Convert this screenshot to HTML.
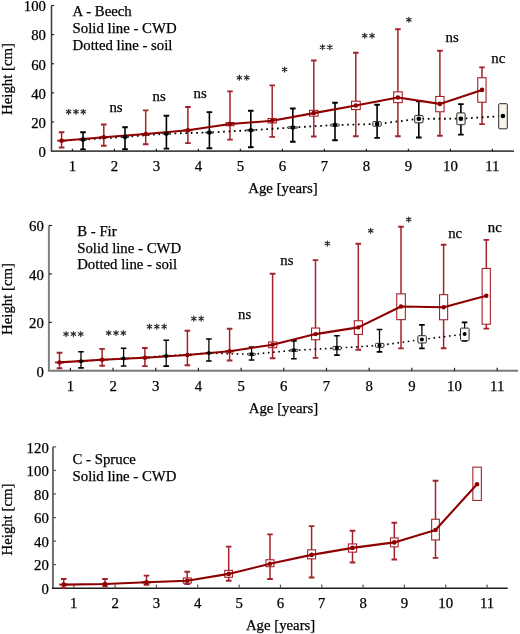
<!DOCTYPE html>
<html><head><meta charset="utf-8"><style>
html,body{margin:0;padding:0;background:#fff;}
svg{display:block;will-change:transform;}
text{font-family:"Liberation Serif", serif;fill:#000;stroke:#000;stroke-width:0.25px;}
</style></head><body>
<svg width="520" height="634" viewBox="0 0 520 634">
<rect width="520" height="634" fill="#fff"/>
<line x1="51.5" y1="5.5" x2="51.5" y2="151.1" stroke="#3a3a3a" stroke-width="1.5"/>
<line x1="50.75" y1="151.1" x2="514" y2="151.1" stroke="#454545" stroke-width="1.8"/>
<text x="46.0" y="156.90" text-anchor="end" font-size="14.8" >0</text>
<line x1="51.5" y1="121.98" x2="54.1" y2="121.98" stroke="#222" stroke-width="1.2"/>
<text x="46.0" y="127.78" text-anchor="end" font-size="14.8" >20</text>
<line x1="51.5" y1="92.86" x2="54.1" y2="92.86" stroke="#222" stroke-width="1.2"/>
<text x="46.0" y="98.66" text-anchor="end" font-size="14.8" >40</text>
<line x1="51.5" y1="63.74" x2="54.1" y2="63.74" stroke="#222" stroke-width="1.2"/>
<text x="46.0" y="69.54" text-anchor="end" font-size="14.8" >60</text>
<line x1="51.5" y1="34.62" x2="54.1" y2="34.62" stroke="#222" stroke-width="1.2"/>
<text x="46.0" y="40.42" text-anchor="end" font-size="14.8" >80</text>
<line x1="51.5" y1="5.50" x2="54.1" y2="5.50" stroke="#222" stroke-width="1.2"/>
<text x="46.0" y="11.30" text-anchor="end" font-size="14.8" >100</text>
<line x1="72.40" y1="151.1" x2="72.40" y2="148.7" stroke="#222" stroke-width="1.2"/>
<text x="72.40" y="170.8" text-anchor="middle" font-size="14.8" >1</text>
<line x1="114.40" y1="151.1" x2="114.40" y2="148.7" stroke="#222" stroke-width="1.2"/>
<text x="114.40" y="170.8" text-anchor="middle" font-size="14.8" >2</text>
<line x1="156.40" y1="151.1" x2="156.40" y2="148.7" stroke="#222" stroke-width="1.2"/>
<text x="156.40" y="170.8" text-anchor="middle" font-size="14.8" >3</text>
<line x1="198.40" y1="151.1" x2="198.40" y2="148.7" stroke="#222" stroke-width="1.2"/>
<text x="198.40" y="170.8" text-anchor="middle" font-size="14.8" >4</text>
<line x1="240.40" y1="151.1" x2="240.40" y2="148.7" stroke="#222" stroke-width="1.2"/>
<text x="240.40" y="170.8" text-anchor="middle" font-size="14.8" >5</text>
<line x1="282.40" y1="151.1" x2="282.40" y2="148.7" stroke="#222" stroke-width="1.2"/>
<text x="282.40" y="170.8" text-anchor="middle" font-size="14.8" >6</text>
<line x1="324.40" y1="151.1" x2="324.40" y2="148.7" stroke="#222" stroke-width="1.2"/>
<text x="324.40" y="170.8" text-anchor="middle" font-size="14.8" >7</text>
<line x1="366.40" y1="151.1" x2="366.40" y2="148.7" stroke="#222" stroke-width="1.2"/>
<text x="366.40" y="170.8" text-anchor="middle" font-size="14.8" >8</text>
<line x1="408.40" y1="151.1" x2="408.40" y2="148.7" stroke="#222" stroke-width="1.2"/>
<text x="408.40" y="170.8" text-anchor="middle" font-size="14.8" >9</text>
<line x1="450.40" y1="151.1" x2="450.40" y2="148.7" stroke="#222" stroke-width="1.2"/>
<text x="450.40" y="170.8" text-anchor="middle" font-size="14.8" >10</text>
<line x1="492.40" y1="151.1" x2="492.40" y2="148.7" stroke="#222" stroke-width="1.2"/>
<text x="492.40" y="170.8" text-anchor="middle" font-size="14.8" >11</text>
<text x="283" y="192.8" text-anchor="middle" font-size="14.8" >Age [years]</text>
<text transform="translate(11.7 79) rotate(-90)" text-anchor="middle" font-size="14.8">Height [cm]</text>
<text x="72.6" y="15.9" text-anchor="start" font-size="14.8" >A - Beech</text>
<text x="72.6" y="32.6" text-anchor="start" font-size="14.8" >Solid line - CWD</text>
<text x="72.6" y="49.5" text-anchor="start" font-size="14.8" >Dotted line - soil</text>
<g>
<path d="M61.6 132 V147.7" stroke="#a3222b" stroke-width="1.5" fill="none"/><path d="M58.800000000000004 132.2 H64.4 M58.800000000000004 147.5 H64.4" stroke="#a3222b" stroke-width="1.9" fill="none"/>
<path d="M103.8 124.3 V146" stroke="#a3222b" stroke-width="1.5" fill="none"/><path d="M101.0 124.5 H106.6 M101.0 145.8 H106.6" stroke="#a3222b" stroke-width="1.9" fill="none"/>
<path d="M145.7 110.2 V144.4" stroke="#a3222b" stroke-width="1.5" fill="none"/><path d="M142.89999999999998 110.4 H148.5 M142.89999999999998 144.20000000000002 H148.5" stroke="#a3222b" stroke-width="1.9" fill="none"/>
<path d="M187.9 106.8 V143.3" stroke="#a3222b" stroke-width="1.5" fill="none"/><path d="M185.1 107.0 H190.70000000000002 M185.1 143.10000000000002 H190.70000000000002" stroke="#a3222b" stroke-width="1.9" fill="none"/>
<path d="M230 91.2 V139.8" stroke="#a3222b" stroke-width="1.5" fill="none"/><path d="M227.2 91.4 H232.8 M227.2 139.60000000000002 H232.8" stroke="#a3222b" stroke-width="1.9" fill="none"/>
<path d="M272.2 85.2 V137.1" stroke="#a3222b" stroke-width="1.5" fill="none"/><path d="M269.4 85.4 H275.0 M269.4 136.9 H275.0" stroke="#a3222b" stroke-width="1.9" fill="none"/>
<path d="M313.8 60.3 V136.7" stroke="#a3222b" stroke-width="1.5" fill="none"/><path d="M311.0 60.5 H316.6 M311.0 136.5 H316.6" stroke="#a3222b" stroke-width="1.9" fill="none"/>
<path d="M355.8 52.5 V136.5" stroke="#a3222b" stroke-width="1.5" fill="none"/><path d="M353.0 52.7 H358.6 M353.0 136.3 H358.6" stroke="#a3222b" stroke-width="1.9" fill="none"/>
<path d="M397.9 29.1 V136.5" stroke="#a3222b" stroke-width="1.5" fill="none"/><path d="M395.09999999999997 29.3 H400.7 M395.09999999999997 136.3 H400.7" stroke="#a3222b" stroke-width="1.9" fill="none"/>
<path d="M439.9 50.6 V135.9" stroke="#a3222b" stroke-width="1.5" fill="none"/><path d="M437.09999999999997 50.800000000000004 H442.7 M437.09999999999997 135.70000000000002 H442.7" stroke="#a3222b" stroke-width="1.9" fill="none"/>
<path d="M482 67.2 V124.3" stroke="#a3222b" stroke-width="1.5" fill="none"/><path d="M479.2 67.4 H484.8 M479.2 124.1 H484.8" stroke="#a3222b" stroke-width="1.9" fill="none"/>
<path d="M83.0 132 V149.6" stroke="#000" stroke-width="1.6" fill="none"/><path d="M80.2 132.2 H85.8 M80.2 149.4 H85.8" stroke="#000" stroke-width="1.9000000000000001" fill="none"/>
<path d="M125.0 127 V149.5" stroke="#000" stroke-width="1.6" fill="none"/><path d="M122.2 127.2 H127.8 M122.2 149.3 H127.8" stroke="#000" stroke-width="1.9000000000000001" fill="none"/>
<path d="M166.4 115.5 V148.8" stroke="#000" stroke-width="1.6" fill="none"/><path d="M163.6 115.7 H169.20000000000002 M163.6 148.60000000000002 H169.20000000000002" stroke="#000" stroke-width="1.9000000000000001" fill="none"/>
<path d="M209.4 111.9 V148.5" stroke="#000" stroke-width="1.6" fill="none"/><path d="M206.6 112.10000000000001 H212.20000000000002 M206.6 148.3 H212.20000000000002" stroke="#000" stroke-width="1.9000000000000001" fill="none"/>
<path d="M250.8 110.6 V147.5" stroke="#000" stroke-width="1.6" fill="none"/><path d="M248.0 110.8 H253.60000000000002 M248.0 147.3 H253.60000000000002" stroke="#000" stroke-width="1.9000000000000001" fill="none"/>
<path d="M292.8 108.3 V141.9" stroke="#000" stroke-width="1.6" fill="none"/><path d="M290.0 108.5 H295.6 M290.0 141.70000000000002 H295.6" stroke="#000" stroke-width="1.9000000000000001" fill="none"/>
<path d="M335 102.5 V140.4" stroke="#000" stroke-width="1.6" fill="none"/><path d="M332.2 102.7 H337.8 M332.2 140.20000000000002 H337.8" stroke="#000" stroke-width="1.9000000000000001" fill="none"/>
<path d="M377.1 104.6 V138.1" stroke="#000" stroke-width="1.6" fill="none"/><path d="M374.3 104.8 H379.90000000000003 M374.3 137.9 H379.90000000000003" stroke="#000" stroke-width="1.9000000000000001" fill="none"/>
<path d="M418.8 101 V137.7" stroke="#000" stroke-width="1.6" fill="none"/><path d="M416.0 101.2 H421.6 M416.0 137.5 H421.6" stroke="#000" stroke-width="1.9000000000000001" fill="none"/>
<path d="M460.9 103.9 V134.8" stroke="#000" stroke-width="1.6" fill="none"/><path d="M458.09999999999997 104.10000000000001 H463.7 M458.09999999999997 134.60000000000002 H463.7" stroke="#000" stroke-width="1.9000000000000001" fill="none"/>
<rect x="57.75" y="140.25" width="8.00" height="0.90" fill="#fff" stroke="#a3222b" stroke-width="1.1"/>
<rect x="99.75" y="136.75" width="8.00" height="0.90" fill="#fff" stroke="#a3222b" stroke-width="1.1"/>
<rect x="141.75" y="133.55" width="8.00" height="0.90" fill="#fff" stroke="#a3222b" stroke-width="1.1"/>
<rect x="183.85" y="129.85" width="8.10" height="0.90" fill="#fff" stroke="#a3222b" stroke-width="1.1"/>
<rect x="226.05" y="122.55" width="8.00" height="3.20" fill="#fff" stroke="#a3222b" stroke-width="1.1"/>
<rect x="268.05" y="118.55" width="8.30" height="4.40" fill="#fff" stroke="#a3222b" stroke-width="1.1"/>
<rect x="309.55" y="110.35" width="8.50" height="5.80" fill="#fff" stroke="#a3222b" stroke-width="1.1"/>
<rect x="351.55" y="101.25" width="8.70" height="8.30" fill="#fff" stroke="#a3222b" stroke-width="1.1"/>
<rect x="393.65" y="91.85" width="8.60" height="10.80" fill="#fff" stroke="#a3222b" stroke-width="1.1"/>
<rect x="435.75" y="96.45" width="8.30" height="15.30" fill="#fff" stroke="#a3222b" stroke-width="1.1"/>
<rect x="477.75" y="77.75" width="8.30" height="24.50" fill="#fff" stroke="#a3222b" stroke-width="1.1"/>
<path d="M83.0 139.6 L125.0 136.9 L166.4 133.6 L209.4 132.5 L250.8 130.2 L292.8 127.5 L335 125 L377.1 124 L418.8 118.8 L460.9 118.7 L502.9 116" fill="none" stroke="#000" stroke-width="1.8" stroke-dasharray="1.7 3.7"/>
<rect x="78.90" y="139.20" width="8.20" height="1.00" fill="#f7f3ea" rx="0.8" stroke="#2a2a2a" stroke-width="1.0"/>
<rect x="120.90" y="136.40" width="8.20" height="1.00" fill="#f7f3ea" rx="0.8" stroke="#2a2a2a" stroke-width="1.0"/>
<rect x="162.30" y="133.10" width="8.20" height="1.00" fill="#f7f3ea" rx="0.8" stroke="#2a2a2a" stroke-width="1.0"/>
<rect x="205.30" y="132.00" width="8.20" height="1.00" fill="#f7f3ea" rx="0.8" stroke="#2a2a2a" stroke-width="1.0"/>
<rect x="246.70" y="129.50" width="8.20" height="1.40" fill="#f7f3ea" rx="0.8" stroke="#2a2a2a" stroke-width="1.0"/>
<rect x="287.40" y="126.80" width="10.40" height="1.40" fill="#f7f3ea" rx="0.8" stroke="#2a2a2a" stroke-width="1.0"/>
<rect x="330.20" y="124.10" width="9.20" height="2.00" fill="#f7f3ea" rx="0.8" stroke="#2a2a2a" stroke-width="1.0"/>
<rect x="372.80" y="121.60" width="8.40" height="4.60" fill="#f7f3ea" rx="0.8" stroke="#2a2a2a" stroke-width="1.0"/>
<rect x="414.70" y="115.40" width="8.30" height="7.40" fill="#f7f3ea" rx="0.8" stroke="#2a2a2a" stroke-width="1.0"/>
<rect x="456.80" y="112.90" width="8.30" height="11.80" fill="#f7f3ea" rx="0.8" stroke="#2a2a2a" stroke-width="1.0"/>
<rect x="498.70" y="103.70" width="8.60" height="25.10" fill="#f7f3ea" rx="0.8" stroke="#2a2a2a" stroke-width="1.0"/>
<path d="M61.6 140.7 L103.8 137.2 L145.7 134 L187.9 130.3 L230 124 L272.2 120.8 L313.8 113.1 L355.8 105.5 L397.9 97.5 L439.9 103.9 L482 89.9" fill="none" stroke="#8e0000" stroke-width="2.1" stroke-linejoin="round"/>
<circle cx="61.6" cy="140.7" r="2.3" fill="#8e0000"/>
<circle cx="103.8" cy="137.2" r="2.3" fill="#8e0000"/>
<circle cx="145.7" cy="134" r="2.3" fill="#8e0000"/>
<circle cx="187.9" cy="130.3" r="2.3" fill="#8e0000"/>
<circle cx="230" cy="124" r="2.3" fill="#8e0000"/>
<circle cx="272.2" cy="120.8" r="2.3" fill="#8e0000"/>
<circle cx="313.8" cy="113.1" r="2.3" fill="#8e0000"/>
<circle cx="355.8" cy="105.5" r="2.3" fill="#8e0000"/>
<circle cx="397.9" cy="97.5" r="2.3" fill="#8e0000"/>
<circle cx="439.9" cy="103.9" r="2.3" fill="#8e0000"/>
<circle cx="482" cy="89.9" r="2.3" fill="#8e0000"/>
<circle cx="83.0" cy="139.6" r="2.3" fill="#000"/>
<circle cx="125.0" cy="136.9" r="2.3" fill="#000"/>
<circle cx="166.4" cy="133.6" r="2.3" fill="#000"/>
<circle cx="209.4" cy="132.5" r="2.3" fill="#000"/>
<circle cx="250.8" cy="130.2" r="2.3" fill="#000"/>
<circle cx="292.8" cy="127.5" r="2.3" fill="#000"/>
<circle cx="335" cy="125" r="2.3" fill="#000"/>
<circle cx="377.1" cy="124" r="2.3" fill="#000"/>
<circle cx="418.8" cy="118.8" r="2.3" fill="#000"/>
<circle cx="460.9" cy="118.7" r="2.3" fill="#000"/>
<circle cx="502.9" cy="116" r="2.3" fill="#000"/>
</g>
<path d="M68.60 109.20V114.30M66.35 110.45L70.85 113.05M66.35 113.05L70.85 110.45M75.95 109.20V114.30M73.70 110.45L78.20 113.05M73.70 113.05L78.20 110.45M83.30 109.20V114.30M81.05 110.45L85.55 113.05M81.05 113.05L85.55 110.45" stroke="#2a2a2a" stroke-width="1.15" stroke-linecap="round" fill="none"/>
<path d="M239.38 75.15V80.25M237.12 76.40L241.62 79.00M237.12 79.00L241.62 76.40M246.73 75.15V80.25M244.48 76.40L248.98 79.00M244.48 79.00L248.98 76.40" stroke="#2a2a2a" stroke-width="1.15" stroke-linecap="round" fill="none"/>
<path d="M284.60 66.95V72.05M282.35 68.20L286.85 70.80M282.35 70.80L286.85 68.20" stroke="#2a2a2a" stroke-width="1.15" stroke-linecap="round" fill="none"/>
<path d="M322.52 44.65V49.75M320.27 45.90L324.77 48.50M320.27 48.50L324.77 45.90M329.88 44.65V49.75M327.62 45.90L332.12 48.50M327.62 48.50L332.12 45.90" stroke="#2a2a2a" stroke-width="1.15" stroke-linecap="round" fill="none"/>
<path d="M364.72 33.15V38.25M362.47 34.40L366.97 37.00M362.47 37.00L366.97 34.40M372.07 33.15V38.25M369.82 34.40L374.32 37.00M369.82 37.00L374.32 34.40" stroke="#2a2a2a" stroke-width="1.15" stroke-linecap="round" fill="none"/>
<path d="M408.90 17.25V22.35M406.65 18.50L411.15 21.10M406.65 21.10L411.15 18.50" stroke="#2a2a2a" stroke-width="1.15" stroke-linecap="round" fill="none"/>
<text x="116.0" y="112.2" text-anchor="middle" font-size="14.8" >ns</text>
<text x="159.1" y="100.6" text-anchor="middle" font-size="14.8" >ns</text>
<text x="200.2" y="98.3" text-anchor="middle" font-size="14.8" >ns</text>
<text x="452.2" y="41.8" text-anchor="middle" font-size="14.8" >ns</text>
<text x="498.3" y="63.1" text-anchor="middle" font-size="14.8" >nc</text>
<line x1="48.9" y1="225.5" x2="48.9" y2="370.8" stroke="#808080" stroke-width="2.0"/>
<line x1="47.9" y1="370.8" x2="518" y2="370.8" stroke="#7a7a7a" stroke-width="2.0"/>
<text x="43.9" y="376.60" text-anchor="end" font-size="14.8" >0</text>
<line x1="48.9" y1="322.37" x2="51.9" y2="322.37" stroke="#222" stroke-width="1.2"/>
<text x="43.9" y="328.17" text-anchor="end" font-size="14.8" >20</text>
<line x1="48.9" y1="273.93" x2="51.9" y2="273.93" stroke="#222" stroke-width="1.2"/>
<text x="43.9" y="279.73" text-anchor="end" font-size="14.8" >40</text>
<line x1="48.9" y1="225.50" x2="51.9" y2="225.50" stroke="#222" stroke-width="1.2"/>
<text x="43.9" y="231.30" text-anchor="end" font-size="14.8" >60</text>
<line x1="70.40" y1="370.8" x2="70.40" y2="367.8" stroke="#222" stroke-width="1.2"/>
<text x="70.40" y="391.0" text-anchor="middle" font-size="14.8" >1</text>
<line x1="113.08" y1="370.8" x2="113.08" y2="367.8" stroke="#222" stroke-width="1.2"/>
<text x="113.08" y="391.0" text-anchor="middle" font-size="14.8" >2</text>
<line x1="155.76" y1="370.8" x2="155.76" y2="367.8" stroke="#222" stroke-width="1.2"/>
<text x="155.76" y="391.0" text-anchor="middle" font-size="14.8" >3</text>
<line x1="198.44" y1="370.8" x2="198.44" y2="367.8" stroke="#222" stroke-width="1.2"/>
<text x="198.44" y="391.0" text-anchor="middle" font-size="14.8" >4</text>
<line x1="241.12" y1="370.8" x2="241.12" y2="367.8" stroke="#222" stroke-width="1.2"/>
<text x="241.12" y="391.0" text-anchor="middle" font-size="14.8" >5</text>
<line x1="283.80" y1="370.8" x2="283.80" y2="367.8" stroke="#222" stroke-width="1.2"/>
<text x="283.80" y="391.0" text-anchor="middle" font-size="14.8" >6</text>
<line x1="326.48" y1="370.8" x2="326.48" y2="367.8" stroke="#222" stroke-width="1.2"/>
<text x="326.48" y="391.0" text-anchor="middle" font-size="14.8" >7</text>
<line x1="369.16" y1="370.8" x2="369.16" y2="367.8" stroke="#222" stroke-width="1.2"/>
<text x="369.16" y="391.0" text-anchor="middle" font-size="14.8" >8</text>
<line x1="411.84" y1="370.8" x2="411.84" y2="367.8" stroke="#222" stroke-width="1.2"/>
<text x="411.84" y="391.0" text-anchor="middle" font-size="14.8" >9</text>
<line x1="454.52" y1="370.8" x2="454.52" y2="367.8" stroke="#222" stroke-width="1.2"/>
<text x="454.52" y="391.0" text-anchor="middle" font-size="14.8" >10</text>
<line x1="497.20" y1="370.8" x2="497.20" y2="367.8" stroke="#222" stroke-width="1.2"/>
<text x="497.20" y="391.0" text-anchor="middle" font-size="14.8" >11</text>
<text x="283.5" y="413.0" text-anchor="middle" font-size="14.8" >Age [years]</text>
<text transform="translate(11.7 299) rotate(-90)" text-anchor="middle" font-size="14.8">Height [cm]</text>
<text x="77.2" y="235.9" text-anchor="start" font-size="14.8" >B - Fir</text>
<text x="77.2" y="252.6" text-anchor="start" font-size="14.8" >Solid line - CWD</text>
<text x="77.2" y="269.4" text-anchor="start" font-size="14.8" >Dotted line - soil</text>
<path d="M59.5 352.5 V368.5" stroke="#a3222b" stroke-width="1.5" fill="none"/><path d="M56.7 352.7 H62.3 M56.7 368.3 H62.3" stroke="#a3222b" stroke-width="1.9" fill="none"/>
<path d="M102.1 348.7 V366" stroke="#a3222b" stroke-width="1.5" fill="none"/><path d="M99.3 348.9 H104.89999999999999 M99.3 365.8 H104.89999999999999" stroke="#a3222b" stroke-width="1.9" fill="none"/>
<path d="M144.9 347.8 V366.3" stroke="#a3222b" stroke-width="1.5" fill="none"/><path d="M142.1 348.0 H147.70000000000002 M142.1 366.1 H147.70000000000002" stroke="#a3222b" stroke-width="1.9" fill="none"/>
<path d="M187.4 330.5 V365.4" stroke="#a3222b" stroke-width="1.5" fill="none"/><path d="M184.6 330.7 H190.20000000000002 M184.6 365.2 H190.20000000000002" stroke="#a3222b" stroke-width="1.9" fill="none"/>
<path d="M229.6 328.5 V360.7" stroke="#a3222b" stroke-width="1.5" fill="none"/><path d="M226.79999999999998 328.7 H232.4 M226.79999999999998 360.5 H232.4" stroke="#a3222b" stroke-width="1.9" fill="none"/>
<path d="M272.6 273.5 V358.4" stroke="#a3222b" stroke-width="1.5" fill="none"/><path d="M269.8 273.7 H275.40000000000003 M269.8 358.2 H275.40000000000003" stroke="#a3222b" stroke-width="1.9" fill="none"/>
<path d="M315.5 259.9 V358.1" stroke="#a3222b" stroke-width="1.5" fill="none"/><path d="M312.7 260.09999999999997 H318.3 M312.7 357.90000000000003 H318.3" stroke="#a3222b" stroke-width="1.9" fill="none"/>
<path d="M358.3 243.5 V349.9" stroke="#a3222b" stroke-width="1.5" fill="none"/><path d="M355.5 243.7 H361.1 M355.5 349.7 H361.1" stroke="#a3222b" stroke-width="1.9" fill="none"/>
<path d="M401 226.6 V348.6" stroke="#a3222b" stroke-width="1.5" fill="none"/><path d="M398.2 226.79999999999998 H403.8 M398.2 348.40000000000003 H403.8" stroke="#a3222b" stroke-width="1.9" fill="none"/>
<path d="M443.6 244.5 V348.4" stroke="#a3222b" stroke-width="1.5" fill="none"/><path d="M440.8 244.7 H446.40000000000003 M440.8 348.2 H446.40000000000003" stroke="#a3222b" stroke-width="1.9" fill="none"/>
<path d="M486.3 239.7 V328.8" stroke="#a3222b" stroke-width="1.5" fill="none"/><path d="M483.5 239.89999999999998 H489.1 M483.5 328.6 H489.1" stroke="#a3222b" stroke-width="1.9" fill="none"/>
<path d="M81 351.5 V368.1" stroke="#000" stroke-width="1.3" fill="none"/><path d="M78.2 351.7 H83.8 M78.2 367.90000000000003 H83.8" stroke="#000" stroke-width="1.6" fill="none"/>
<path d="M123.6 348 V366.2" stroke="#000" stroke-width="1.3" fill="none"/><path d="M120.8 348.2 H126.39999999999999 M120.8 366.0 H126.39999999999999" stroke="#000" stroke-width="1.6" fill="none"/>
<path d="M166.2 340 V366.3" stroke="#000" stroke-width="1.3" fill="none"/><path d="M163.39999999999998 340.2 H169.0 M163.39999999999998 366.1 H169.0" stroke="#000" stroke-width="1.6" fill="none"/>
<path d="M208.9 338.8 V361.2" stroke="#000" stroke-width="1.3" fill="none"/><path d="M206.1 339.0 H211.70000000000002 M206.1 361.0 H211.70000000000002" stroke="#000" stroke-width="1.6" fill="none"/>
<path d="M251.6 346.8 V360.2" stroke="#000" stroke-width="1.3" fill="none"/><path d="M248.79999999999998 347.0 H254.4 M248.79999999999998 360.0 H254.4" stroke="#000" stroke-width="1.6" fill="none"/>
<path d="M293.9 340.7 V358.9" stroke="#000" stroke-width="1.3" fill="none"/><path d="M291.09999999999997 340.9 H296.7 M291.09999999999997 358.7 H296.7" stroke="#000" stroke-width="1.6" fill="none"/>
<path d="M336.9 335.5 V355.3" stroke="#000" stroke-width="1.3" fill="none"/><path d="M334.09999999999997 335.7 H339.7 M334.09999999999997 355.1 H339.7" stroke="#000" stroke-width="1.6" fill="none"/>
<path d="M379.5 329.3 V352.1" stroke="#000" stroke-width="1.3" fill="none"/><path d="M376.7 329.5 H382.3 M376.7 351.90000000000003 H382.3" stroke="#000" stroke-width="1.6" fill="none"/>
<path d="M421.9 324.7 V348.6" stroke="#000" stroke-width="1.3" fill="none"/><path d="M419.09999999999997 324.9 H424.7 M419.09999999999997 348.40000000000003 H424.7" stroke="#000" stroke-width="1.6" fill="none"/>
<path d="M464.6 322.2 V341.2" stroke="#000" stroke-width="1.3" fill="none"/><path d="M461.8 322.4 H467.40000000000003 M461.8 341.0 H467.40000000000003" stroke="#000" stroke-width="1.6" fill="none"/>
<rect x="55.55" y="361.95" width="8.00" height="0.90" fill="#fff" stroke="#a3222b" stroke-width="1.1"/>
<rect x="98.15" y="359.35" width="8.00" height="0.90" fill="#fff" stroke="#a3222b" stroke-width="1.1"/>
<rect x="140.95" y="357.25" width="8.00" height="0.90" fill="#fff" stroke="#a3222b" stroke-width="1.1"/>
<rect x="183.45" y="354.55" width="8.00" height="0.90" fill="#fff" stroke="#a3222b" stroke-width="1.1"/>
<rect x="225.65" y="350.75" width="8.00" height="1.10" fill="#fff" stroke="#a3222b" stroke-width="1.1"/>
<rect x="268.65" y="341.95" width="8.10" height="5.80" fill="#fff" stroke="#a3222b" stroke-width="1.1"/>
<rect x="311.55" y="328.05" width="8.10" height="11.70" fill="#fff" stroke="#a3222b" stroke-width="1.1"/>
<rect x="354.35" y="320.75" width="8.10" height="13.70" fill="#fff" stroke="#a3222b" stroke-width="1.1"/>
<rect x="396.75" y="293.85" width="8.60" height="25.80" fill="#fff" stroke="#a3222b" stroke-width="1.1"/>
<rect x="439.55" y="294.65" width="8.10" height="25.10" fill="#fff" stroke="#a3222b" stroke-width="1.1"/>
<rect x="482.15" y="268.45" width="8.20" height="55.80" fill="#fff" stroke="#a3222b" stroke-width="1.1"/>
<path d="M81 361.2 L123.6 358.6 L166.2 355.9 L208.9 353.1 L251.6 354.3 L293.9 350.3 L336.9 348.1 L379.5 345.4 L421.9 339.5 L464.6 334.1" fill="none" stroke="#000" stroke-width="1.6" stroke-dasharray="1.6 3.6"/>
<rect x="77.00" y="360.70" width="8.10" height="1.00" fill="#fcfaf3" rx="0.8" stroke="#2a2a2a" stroke-width="1.0"/>
<rect x="119.60" y="358.10" width="8.10" height="1.00" fill="#fcfaf3" rx="0.8" stroke="#2a2a2a" stroke-width="1.0"/>
<rect x="162.20" y="355.40" width="8.10" height="1.00" fill="#fcfaf3" rx="0.8" stroke="#2a2a2a" stroke-width="1.0"/>
<rect x="204.90" y="352.60" width="8.10" height="1.00" fill="#fcfaf3" rx="0.8" stroke="#2a2a2a" stroke-width="1.0"/>
<rect x="247.70" y="353.30" width="7.80" height="2.00" fill="#fcfaf3" rx="0.8" stroke="#2a2a2a" stroke-width="1.0"/>
<rect x="290.10" y="349.30" width="7.80" height="2.00" fill="#fcfaf3" rx="0.8" stroke="#2a2a2a" stroke-width="1.0"/>
<rect x="332.90" y="346.40" width="8.20" height="3.40" fill="#fcfaf3" rx="0.8" stroke="#2a2a2a" stroke-width="1.0"/>
<rect x="375.50" y="343.40" width="8.40" height="3.90" fill="#fcfaf3" rx="0.8" stroke="#2a2a2a" stroke-width="1.0"/>
<rect x="417.90" y="335.70" width="8.40" height="7.30" fill="#fcfaf3" rx="0.8" stroke="#2a2a2a" stroke-width="1.0"/>
<rect x="460.50" y="328.10" width="8.60" height="12.40" fill="#fcfaf3" rx="0.8" stroke="#2a2a2a" stroke-width="1.0"/>
<path d="M59.5 362.4 L102.1 359.8 L144.9 357.7 L187.4 355 L229.6 351.3 L272.6 344.7 L315.5 334.1 L358.3 327.4 L401 306.5 L443.6 307.2 L486.3 295.8" fill="none" stroke="#8e0000" stroke-width="2.1" stroke-linejoin="round"/>
<circle cx="59.5" cy="362.4" r="2.2" fill="#8e0000"/>
<circle cx="102.1" cy="359.8" r="2.2" fill="#8e0000"/>
<circle cx="144.9" cy="357.7" r="2.2" fill="#8e0000"/>
<circle cx="187.4" cy="355" r="2.2" fill="#8e0000"/>
<circle cx="229.6" cy="351.3" r="2.2" fill="#8e0000"/>
<circle cx="272.6" cy="344.7" r="2.2" fill="#8e0000"/>
<circle cx="315.5" cy="334.1" r="2.2" fill="#8e0000"/>
<circle cx="358.3" cy="327.4" r="2.2" fill="#8e0000"/>
<circle cx="401" cy="306.5" r="2.2" fill="#8e0000"/>
<circle cx="443.6" cy="307.2" r="2.2" fill="#8e0000"/>
<circle cx="486.3" cy="295.8" r="2.2" fill="#8e0000"/>
<circle cx="81" cy="361.2" r="2.0" fill="#000"/>
<circle cx="123.6" cy="358.6" r="2.0" fill="#000"/>
<circle cx="166.2" cy="355.9" r="2.0" fill="#000"/>
<circle cx="208.9" cy="353.1" r="2.0" fill="#000"/>
<circle cx="251.6" cy="354.3" r="2.0" fill="#000"/>
<circle cx="293.9" cy="350.3" r="2.0" fill="#000"/>
<circle cx="336.9" cy="348.1" r="2.0" fill="#000"/>
<circle cx="379.5" cy="345.4" r="2.0" fill="#000"/>
<circle cx="421.9" cy="339.5" r="2.0" fill="#000"/>
<circle cx="464.6" cy="334.1" r="2.0" fill="#000"/>
<path d="M66.05 331.45V336.55M63.80 332.70L68.30 335.30M63.80 335.30L68.30 332.70M73.40 331.45V336.55M71.15 332.70L75.65 335.30M71.15 335.30L75.65 332.70M80.75 331.45V336.55M78.50 332.70L83.00 335.30M78.50 335.30L83.00 332.70" stroke="#2a2a2a" stroke-width="1.15" stroke-linecap="round" fill="none"/>
<path d="M108.65 330.45V335.55M106.40 331.70L110.90 334.30M106.40 334.30L110.90 331.70M116.00 330.45V335.55M113.75 331.70L118.25 334.30M113.75 334.30L118.25 331.70M123.35 330.45V335.55M121.10 331.70L125.60 334.30M121.10 334.30L125.60 331.70" stroke="#2a2a2a" stroke-width="1.15" stroke-linecap="round" fill="none"/>
<path d="M149.50 324.05V329.15M147.25 325.30L151.75 327.90M147.25 327.90L151.75 325.30M156.85 324.05V329.15M154.60 325.30L159.10 327.90M154.60 327.90L159.10 325.30M164.20 324.05V329.15M161.95 325.30L166.45 327.90M161.95 327.90L166.45 325.30" stroke="#2a2a2a" stroke-width="1.15" stroke-linecap="round" fill="none"/>
<path d="M193.82 316.05V321.15M191.57 317.30L196.07 319.90M191.57 319.90L196.07 317.30M201.18 316.05V321.15M198.93 317.30L203.43 319.90M198.93 319.90L203.43 317.30" stroke="#2a2a2a" stroke-width="1.15" stroke-linecap="round" fill="none"/>
<path d="M327.40 240.95V246.05M325.15 242.20L329.65 244.80M325.15 244.80L329.65 242.20" stroke="#2a2a2a" stroke-width="1.15" stroke-linecap="round" fill="none"/>
<path d="M370.70 228.25V233.35M368.45 229.50L372.95 232.10M368.45 232.10L372.95 229.50" stroke="#2a2a2a" stroke-width="1.15" stroke-linecap="round" fill="none"/>
<path d="M408.70 216.95V222.05M406.45 218.20L410.95 220.80M406.45 220.80L410.95 218.20" stroke="#2a2a2a" stroke-width="1.15" stroke-linecap="round" fill="none"/>
<text x="244.7" y="319.0" text-anchor="middle" font-size="14.8" >ns</text>
<text x="286.9" y="264.7" text-anchor="middle" font-size="14.8" >ns</text>
<text x="455.2" y="238.0" text-anchor="middle" font-size="14.8" >nc</text>
<text x="494.8" y="231.8" text-anchor="middle" font-size="14.8" >nc</text>
<line x1="52.95" y1="446.9" x2="52.95" y2="588.2" stroke="#6e6e6e" stroke-width="2.0"/>
<line x1="51.95" y1="588.2" x2="507.7" y2="588.2" stroke="#1e1e1e" stroke-width="1.4"/>
<text x="48.8" y="594.00" text-anchor="end" font-size="14.8" >0</text>
<line x1="52.95" y1="564.65" x2="56.150000000000006" y2="564.65" stroke="#555" stroke-width="1.2"/>
<text x="48.8" y="570.45" text-anchor="end" font-size="14.8" >20</text>
<line x1="52.95" y1="541.10" x2="56.150000000000006" y2="541.10" stroke="#555" stroke-width="1.2"/>
<text x="48.8" y="546.90" text-anchor="end" font-size="14.8" >40</text>
<line x1="52.95" y1="517.55" x2="56.150000000000006" y2="517.55" stroke="#555" stroke-width="1.2"/>
<text x="48.8" y="523.35" text-anchor="end" font-size="14.8" >60</text>
<line x1="52.95" y1="494.00" x2="56.150000000000006" y2="494.00" stroke="#555" stroke-width="1.2"/>
<text x="48.8" y="499.80" text-anchor="end" font-size="14.8" >80</text>
<line x1="52.95" y1="470.45" x2="56.150000000000006" y2="470.45" stroke="#555" stroke-width="1.2"/>
<text x="48.8" y="476.25" text-anchor="end" font-size="14.8" >100</text>
<line x1="52.95" y1="446.90" x2="56.150000000000006" y2="446.90" stroke="#555" stroke-width="1.2"/>
<text x="48.8" y="452.70" text-anchor="end" font-size="14.8" >120</text>
<line x1="73.80" y1="588.2" x2="73.80" y2="584.6" stroke="#555" stroke-width="1.2"/>
<text x="73.80" y="608.0" text-anchor="middle" font-size="14.8" >1</text>
<line x1="115.13" y1="588.2" x2="115.13" y2="584.6" stroke="#555" stroke-width="1.2"/>
<text x="115.13" y="608.0" text-anchor="middle" font-size="14.8" >2</text>
<line x1="156.46" y1="588.2" x2="156.46" y2="584.6" stroke="#555" stroke-width="1.2"/>
<text x="156.46" y="608.0" text-anchor="middle" font-size="14.8" >3</text>
<line x1="197.79" y1="588.2" x2="197.79" y2="584.6" stroke="#555" stroke-width="1.2"/>
<text x="197.79" y="608.0" text-anchor="middle" font-size="14.8" >4</text>
<line x1="239.12" y1="588.2" x2="239.12" y2="584.6" stroke="#555" stroke-width="1.2"/>
<text x="239.12" y="608.0" text-anchor="middle" font-size="14.8" >5</text>
<line x1="280.45" y1="588.2" x2="280.45" y2="584.6" stroke="#555" stroke-width="1.2"/>
<text x="280.45" y="608.0" text-anchor="middle" font-size="14.8" >6</text>
<line x1="321.78" y1="588.2" x2="321.78" y2="584.6" stroke="#555" stroke-width="1.2"/>
<text x="321.78" y="608.0" text-anchor="middle" font-size="14.8" >7</text>
<line x1="363.11" y1="588.2" x2="363.11" y2="584.6" stroke="#555" stroke-width="1.2"/>
<text x="363.11" y="608.0" text-anchor="middle" font-size="14.8" >8</text>
<line x1="404.44" y1="588.2" x2="404.44" y2="584.6" stroke="#555" stroke-width="1.2"/>
<text x="404.44" y="608.0" text-anchor="middle" font-size="14.8" >9</text>
<line x1="445.77" y1="588.2" x2="445.77" y2="584.6" stroke="#555" stroke-width="1.2"/>
<text x="445.77" y="608.0" text-anchor="middle" font-size="14.8" >10</text>
<line x1="487.10" y1="588.2" x2="487.10" y2="584.6" stroke="#555" stroke-width="1.2"/>
<text x="487.10" y="608.0" text-anchor="middle" font-size="14.8" >11</text>
<text x="280.6" y="630.4" text-anchor="middle" font-size="14.8" >Age [years]</text>
<text transform="translate(11.7 519.5) rotate(-90)" text-anchor="middle" font-size="14.8">Height [cm]</text>
<text x="72.5" y="464.2" text-anchor="start" font-size="14.8" >C - Spruce</text>
<text x="72.5" y="480.8" text-anchor="start" font-size="14.8" >Solid line - CWD</text>
<path d="M63.7 578.8 V588" stroke="#a3222b" stroke-width="1.5" fill="none"/><path d="M60.900000000000006 579.0 H66.5 M60.900000000000006 587.8 H66.5" stroke="#a3222b" stroke-width="1.9" fill="none"/>
<path d="M105 578.8 V586.5" stroke="#a3222b" stroke-width="1.5" fill="none"/><path d="M102.2 579.0 H107.8 M102.2 586.3 H107.8" stroke="#a3222b" stroke-width="1.9" fill="none"/>
<path d="M146.5 575.4 V584.9" stroke="#a3222b" stroke-width="1.5" fill="none"/><path d="M143.7 575.6 H149.3 M143.7 584.6999999999999 H149.3" stroke="#a3222b" stroke-width="1.9" fill="none"/>
<path d="M187.2 571.5 V584.2" stroke="#a3222b" stroke-width="1.5" fill="none"/><path d="M184.39999999999998 571.7 H190.0 M184.39999999999998 584.0 H190.0" stroke="#a3222b" stroke-width="1.9" fill="none"/>
<path d="M228.7 546.4 V580.9" stroke="#a3222b" stroke-width="1.5" fill="none"/><path d="M225.89999999999998 546.6 H231.5 M225.89999999999998 580.6999999999999 H231.5" stroke="#a3222b" stroke-width="1.9" fill="none"/>
<path d="M270 534.2 V579.2" stroke="#a3222b" stroke-width="1.5" fill="none"/><path d="M267.2 534.4000000000001 H272.8 M267.2 579.0 H272.8" stroke="#a3222b" stroke-width="1.9" fill="none"/>
<path d="M311.6 525.9 V577.7" stroke="#a3222b" stroke-width="1.5" fill="none"/><path d="M308.8 526.1 H314.40000000000003 M308.8 577.5 H314.40000000000003" stroke="#a3222b" stroke-width="1.9" fill="none"/>
<path d="M352.5 530.6 V562.7" stroke="#a3222b" stroke-width="1.5" fill="none"/><path d="M349.7 530.8000000000001 H355.3 M349.7 562.5 H355.3" stroke="#a3222b" stroke-width="1.9" fill="none"/>
<path d="M394.3 522.6 V559.7" stroke="#a3222b" stroke-width="1.5" fill="none"/><path d="M391.5 522.8000000000001 H397.1 M391.5 559.5 H397.1" stroke="#a3222b" stroke-width="1.9" fill="none"/>
<path d="M435.5 480.6 V558.1" stroke="#a3222b" stroke-width="1.5" fill="none"/><path d="M432.7 480.8 H438.3 M432.7 557.9 H438.3" stroke="#a3222b" stroke-width="1.9" fill="none"/>
<rect x="59.75" y="584.15" width="7.90" height="0.90" fill="#fff" stroke="#a3222b" stroke-width="1.1"/>
<rect x="101.05" y="583.55" width="7.90" height="0.90" fill="#fff" stroke="#a3222b" stroke-width="1.1"/>
<rect x="142.55" y="581.65" width="7.90" height="1.30" fill="#fff" stroke="#a3222b" stroke-width="1.1"/>
<rect x="183.35" y="577.95" width="7.90" height="5.20" fill="#fff" stroke="#a3222b" stroke-width="1.1"/>
<rect x="224.75" y="570.35" width="7.70" height="6.90" fill="#fff" stroke="#a3222b" stroke-width="1.1"/>
<rect x="265.95" y="559.75" width="8.00" height="6.90" fill="#fff" stroke="#a3222b" stroke-width="1.1"/>
<rect x="307.65" y="549.85" width="7.90" height="9.00" fill="#fff" stroke="#a3222b" stroke-width="1.1"/>
<rect x="348.45" y="543.95" width="8.10" height="8.20" fill="#fff" stroke="#a3222b" stroke-width="1.1"/>
<rect x="390.45" y="537.95" width="7.70" height="8.90" fill="#fff" stroke="#a3222b" stroke-width="1.1"/>
<rect x="431.65" y="519.25" width="7.70" height="20.70" fill="#fff" stroke="#a3222b" stroke-width="1.1"/>
<rect x="472.85" y="467.15" width="8.50" height="33.30" fill="#fff" stroke="#a3222b" stroke-width="1.1"/>
<path d="M63.7 584.6 L105 584 L146.5 582.3 L187.2 580.8 L228.7 573.9 L270 563.8 L311.6 554.9 L352.5 547.9 L394.3 542.4 L435.5 530 L477 484.2" fill="none" stroke="#8e0000" stroke-width="2.1" stroke-linejoin="round"/>
<circle cx="63.7" cy="584.6" r="2.3" fill="#8e0000"/>
<circle cx="105" cy="584" r="2.3" fill="#8e0000"/>
<circle cx="146.5" cy="582.3" r="2.3" fill="#8e0000"/>
<circle cx="187.2" cy="580.8" r="2.3" fill="#8e0000"/>
<circle cx="228.7" cy="573.9" r="2.3" fill="#8e0000"/>
<circle cx="270" cy="563.8" r="2.3" fill="#8e0000"/>
<circle cx="311.6" cy="554.9" r="2.3" fill="#8e0000"/>
<circle cx="352.5" cy="547.9" r="2.3" fill="#8e0000"/>
<circle cx="394.3" cy="542.4" r="2.3" fill="#8e0000"/>
<circle cx="435.5" cy="530" r="2.3" fill="#8e0000"/>
<circle cx="477" cy="484.2" r="2.3" fill="#8e0000"/>
</svg>
</body></html>
